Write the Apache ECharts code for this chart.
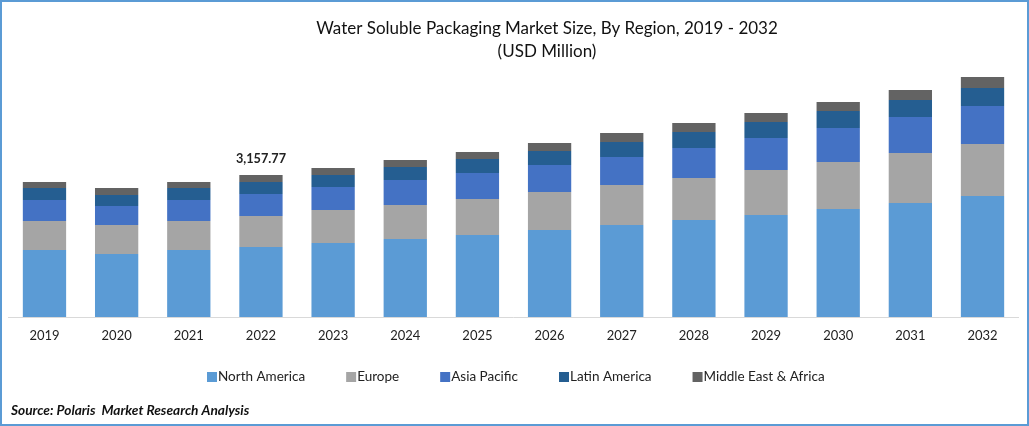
<!DOCTYPE html>
<html>
<head>
<meta charset="utf-8">
<style>
  html, body { margin: 0; padding: 0; background: #fff; }
  #chart { width: 1029px; height: 426px; box-sizing: border-box; position: relative; }
  #frame { position: absolute; left: 0; top: 0; width: 1029px; height: 426px; box-sizing: border-box; border: 2px solid #5b9bd5; pointer-events: none; }
</style>
<script src="https://cdn.jsdelivr.net/npm/echarts@6/dist/echarts.min.js"></script>
</head>
<body>
<div id="chart"></div>
<div id="frame"></div>
<script>
const years = ['2019', '2020', '2021', '2022', '2023', '2024', '2025', '2026', '2027', '2028', '2029', '2030', '2031', '2032'];
const northAmerica = [1490, 1400, 1490, 1557, 1646, 1735, 1824, 1935, 2046, 2157, 2268, 2402, 2535, 2691];
const europe = [645, 645, 645, 689, 734, 756, 801, 845, 890, 934, 1001, 1045, 1112, 1156];
const asiaPacific = [467, 423, 467, 489, 512, 556, 578, 601, 623, 667, 712, 756, 801, 845];
const latinAmerica = [267, 245, 267, 267, 267, 289, 311, 311, 334, 356, 356, 378, 378, 400];
const middleEastAfrica = [133, 156, 133, 155.77, 156, 156, 156, 178, 200, 200, 200, 200, 222, 245];
const labelYear = '2022';
const labelText = '3,157.77';

const font = 'Lato, sans-serif';
const seriesList = [
  { name: 'North America', data: northAmerica, color: '#5b9bd5' },
  { name: 'Europe', data: europe, color: '#a5a5a5' },
  { name: 'Asia Pacific', data: asiaPacific, color: '#4472c4' },
  { name: 'Latin America', data: latinAmerica, color: '#255e91' },
  { name: 'Middle East & Africa', data: middleEastAfrica, color: '#636363' }
];

const myEcharts = echarts.init(document.getElementById('chart'), null, { renderer: 'canvas' });
myEcharts.setOption({
  animation: false,
  title: [
    {
      text: 'Water Soluble Packaging Market Size, By Region, 2019 - 2032\n(USD Million)',
      left: 547,
      top: 17,
      padding: 0,
      textAlign: 'center',
      textStyle: { fontFamily: font, fontSize: 17, fontWeight: 'normal', color: '#111', lineHeight: 23 }
    },
    {
      text: 'Source: Polaris  Market Research Analysis',
      left: 11,
      top: 403.5,
      padding: 0,
      textStyle: { fontFamily: font, fontSize: 13.7, fontWeight: 'bold', fontStyle: 'italic', color: '#111' }
    }
  ],
  legend: {
    left: 202,
    top: 365,
    padding: 5,
    icon: 'rect',
    itemWidth: 10,
    itemHeight: 10,
    itemGap: 41,
    textStyle: { fontFamily: font, fontSize: 13.5, color: '#222', padding: [0, 0, 0, -4] },
    data: seriesList.map(s => s.name)
  },
  grid: { left: 8.4, right: 10.4, top: 30, height: 287 },
  xAxis: {
    type: 'category',
    data: years,
    axisLine: { lineStyle: { color: '#d9d9d9', width: 1 } },
    axisTick: { show: false },
    axisLabel: { fontFamily: font, fontSize: 13, color: '#222', margin: 12 }
  },
  yAxis: {
    type: 'value',
    min: 0,
    max: 6383,
    show: false,
    splitLine: { show: false }
  },
  series: seriesList.map((s, i) => ({
    name: s.name,
    type: 'bar',
    stack: 'total',
    barWidth: '60%',
    itemStyle: { color: s.color },
    data: i === seriesList.length - 1
      ? s.data.map((v, j) => years[j] === labelYear
        ? {
            value: v,
            label: {
              show: true,
              position: 'top',
              distance: 10,
              formatter: labelText,
              fontFamily: font,
              fontSize: 12.7,
              fontWeight: 'bold',
              color: '#222'
            }
          }
        : v)
      : s.data
  }))
});
</script>
</body>
</html>
